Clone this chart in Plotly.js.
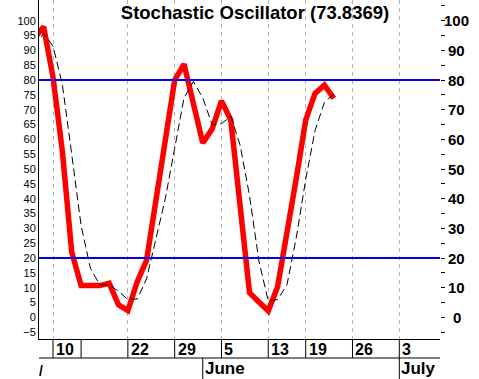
<!DOCTYPE html>
<html>
<head>
<meta charset="utf-8">
<script src="https://cdn.plot.ly/plotly-3.0.1.min.js"></script>
<style>
  html, body { margin: 0; padding: 0; background: #ffffff; }
  #chart { width: 479px; height: 379px; }
</style>
</head>
<body>
<div id="chart"></div>
<script>
// %K (red) and %D (black dashed), one value per trading session
const stochK = [94, 98, 81, 56, 22, 10.7, 10.7, 10.7, 11.5, 4.2, 2.3, 12, 19.3, 39.5, 59.8, 80, 85.4, 72, 58.8, 63.5, 73, 66.5, 39, 8.3, 5.2, 2.2, 10.3, 28, 47, 66.5, 75.5, 78.3, 73.8369];
const stochD = [91.3, 95.7, 91.5, 78.5, 55, 31, 16.5, 11, 11, 8.8, 6, 6.2, 13, 27, 40, 57, 74, 79.5, 74, 65, 65.3, 67.8, 58, 41, 19, 5.5, 6, 11, 27, 46.5, 63, 72.5, 75.3];
// signal levels
const levels = [20, 80];
// week separators (session index) and their labels
const weekIdx = [2, 5, 10, 15, 20, 25, 29, 34, 39];
const weekLabels = ['10', '', '22', '29', '5', '13', '19', '26', '3'];
// month separators and labels
const monthIdx = [18, 39];
const monthLabels = ['June', 'July'];
// axis tick values
const leftTicks = [-5, 0, 5, 10, 15, 20, 25, 30, 35, 40, 45, 50, 55, 60, 65, 70, 75, 80, 85, 90, 95, 100, 105];
const rightLabels = [0, 10, 20, 30, 40, 50, 60, 70, 80, 90, 100];

const sessions = stochK.map((_, i) => i);
const gridIdx = weekIdx.filter((_, i) => weekLabels[i] !== '');

const yRange = [-7.3, 107.0];
const xRange = [0.504, 43.35];

const rowBottom = (339 - 358) / 339;   // bottom of week-label row, in paper units
const pageBottom = (339 - 379) / 339;

const traces = [
  {
    x: sessions, y: stochK, type: 'scatter', mode: 'lines',
    line: { color: '#ff0000', width: 5.5 }, hoverinfo: 'skip', showlegend: false
  },
  {
    x: sessions, y: stochD, type: 'scatter', mode: 'lines', yaxis: 'y2',
    line: { color: '#000000', width: 1, dash: '8px,4px' }, hoverinfo: 'skip', showlegend: false
  }
];

const shapes = [];
levels.forEach(v => shapes.push({
  type: 'line', xref: 'paper', yref: 'y', x0: 0, x1: 1, y0: v, y1: v,
  line: { color: '#0000ff', width: 2 }
}));
weekIdx.forEach(i => shapes.push({
  type: 'line', xref: 'x', yref: 'paper', x0: i, x1: i, y0: 0, y1: rowBottom,
  line: { color: '#000000', width: 1 }
}));
shapes.push({
  type: 'line', xref: 'paper', yref: 'paper', x0: 0, x1: 1, y0: rowBottom, y1: rowBottom,
  line: { color: '#000000', width: 1 }
});
monthIdx.forEach(i => shapes.push({
  type: 'line', xref: 'x', yref: 'paper', x0: i, x1: i, y0: rowBottom, y1: pageBottom,
  line: { color: '#000000', width: 1 }
}));

const annotations = [];
weekIdx.forEach((i, k) => {
  if (weekLabels[k] === '') return;
  annotations.push({
    xref: 'x', yref: 'paper', x: i, y: (339 - 349) / 339, xanchor: 'left', yanchor: 'middle',
    xshift: 1, text: '<b>' + weekLabels[k] + '</b>', showarrow: false,
    font: { family: 'Arial, Liberation Sans', size: 16, color: '#000000' }
  });
});
monthIdx.forEach((i, k) => annotations.push({
  xref: 'x', yref: 'paper', x: i, y: (339 - 369) / 339, xanchor: 'left', yanchor: 'middle',
  xshift: 0, text: '<b>' + monthLabels[k] + '</b>', showarrow: false,
  font: { family: 'Arial, Liberation Sans', size: 17, color: '#000000' }
}));
annotations.push({
  xref: 'x', yref: 'paper', x: 0.7, y: (339 - 371) / 339, xanchor: 'center', yanchor: 'middle',
  text: '<b>/</b>', showarrow: false,
  font: { family: 'Arial, Liberation Sans', size: 14, color: '#000000' }
});
rightLabels.forEach(v => annotations.push({
  xref: 'paper', yref: 'y', x: (457 - 39) / 401, y: v, xanchor: 'center', yanchor: 'middle',
  text: '<b>' + v + '</b>', showarrow: false,
  font: { family: 'Arial, Liberation Sans', size: 15, color: '#000000' }
}));

const layout = {
  width: 479, height: 379,
  margin: { l: 39, r: 39, t: 0, b: 40, pad: 0 },
  paper_bgcolor: '#ffffff', plot_bgcolor: '#ffffff',
  showlegend: false,
  title: {
    text: '<b>Stochastic Oscillator (' + stochK[stochK.length - 1] + ')</b>',
    font: { family: 'Arial, Liberation Sans', size: 18.5, color: '#000000' },
    xref: 'container', yref: 'container', x: 255 / 479, y: 1 - 13 / 379,
    xanchor: 'center', yanchor: 'middle'
  },
  xaxis: {
    range: xRange, tickvals: gridIdx, showticklabels: false, ticks: '',
    showgrid: true, gridcolor: '#b4b4b4', griddash: '4px,4px', gridwidth: 1,
    showline: true, linecolor: '#000000', linewidth: 1, zeroline: false, fixedrange: true
  },
  yaxis: {
    range: yRange, tickvals: leftTicks, ticks: '', showgrid: false, zeroline: false,
    showline: true, linecolor: '#000000', linewidth: 1,
    tickfont: { family: 'Arial, Liberation Sans', size: 11, color: '#000000' },
    fixedrange: true
  },
  yaxis2: {
    range: yRange, overlaying: 'y', side: 'right', tickvals: leftTicks,
    ticks: 'outside', ticklen: 4, tickwidth: 1, tickcolor: '#000000',
    showticklabels: false, showgrid: false, zeroline: false, showline: false, fixedrange: true
  },
  shapes: shapes,
  annotations: annotations
};

Plotly.newPlot('chart', traces, layout, { displayModeBar: false, staticPlot: true });
</script>
</body>
</html>
